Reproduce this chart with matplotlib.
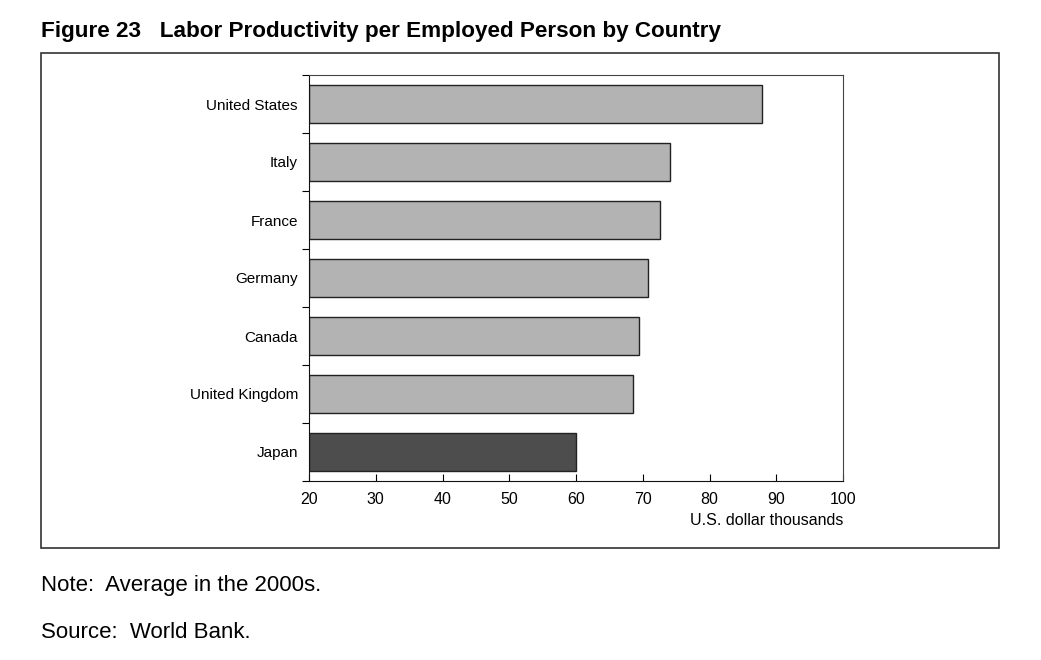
import numpy as np
import matplotlib.pyplot as plt
from matplotlib.patches import Rectangle

plt.rcParams['font.family'] = ['Liberation Sans', 'DejaVu Sans']

countries = ["United States", "Italy", "France", "Germany", "Canada", "United Kingdom", "Japan"]
values = [87.9, 74.1, 72.6, 70.8, 69.4, 68.5, 60.0]
colors = ["#b3b3b3"] * 6 + ["#4d4d4d"]
xticks = [20, 30, 40, 50, 60, 70, 80, 90, 100]

W, H = 1041, 660
fig = plt.figure(figsize=(W / 100, H / 100), dpi=100)

# axes placed to match the reference pixels
ax = fig.add_axes([309 / W, 1 - 481 / H, (843 - 309) / W, (481 - 75) / H])

y = np.arange(len(countries))
ax.barh(y, [v - 20 for v in values], left=20, height=0.67,
        color=colors, edgecolor="#222222", linewidth=1.0)
ax.set_xlim(20, 100)
ax.set_ylim(len(countries) - 0.5, -0.5)

ax.set_xticks(xticks)
ax.tick_params(axis="x", direction="in", length=5, labelsize=11.5, pad=8)
ax.set_yticks(np.arange(-0.5, len(countries), 1.0))
ax.set_yticklabels([])
ax.set_yticks(y, minor=True)
ax.set_yticklabels(countries, minor=True, fontsize=11)
ax.tick_params(axis="y", which="major", direction="out", length=5)
ax.tick_params(axis="y", which="minor", length=0, pad=8)

for s in ["left", "bottom"]:
    ax.spines[s].set_color("#111111")
for s in ["top", "right"]:
    ax.spines[s].set_color("#444444")

ax.text(1.0, -0.078, "U.S. dollar thousands", transform=ax.transAxes,
        ha="right", va="top", fontsize=11.5)

# outer frame
fig.patches.append(Rectangle((41 / W, 1 - 548 / H), (999 - 41) / W, (548 - 53) / H,
                             transform=fig.transFigure, fill=False,
                             edgecolor="#333333", linewidth=1.2))

fig.text(41 / W, 1 - 31 / H, "Figure 23   Labor Productivity per Employed Person by Country",
         ha="left", va="center", fontsize=16.2, fontweight="bold")
fig.text(41 / W, 1 - 586 / H, "Note:  Average in the 2000s.", ha="left", va="center", fontsize=16)
fig.text(41 / W, 1 - 632 / H, "Source:  World Bank.", ha="left", va="center", fontsize=16)

fig.savefig("out.png", dpi=100)
